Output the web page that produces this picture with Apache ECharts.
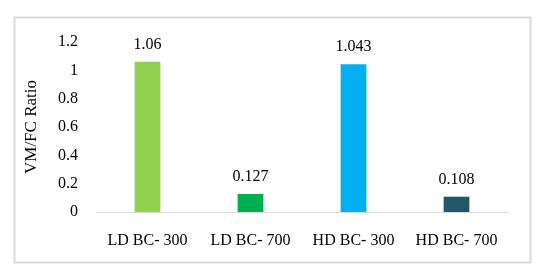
<!DOCTYPE html>
<html><head><meta charset="utf-8">
<script src="https://cdn.jsdelivr.net/npm/echarts@6/dist/echarts.min.js"></script>
<style>html,body{margin:0;padding:0;background:#fff}#c{width:545px;height:278px}</style>
</head><body><div id="c"></div>
<script>
const categories = ["LD BC- 300", "LD BC- 700", "HD BC- 300", "HD BC- 700"];
const values = [1.06, 0.127, 1.043, 0.108];
const labels = ["1.06", "0.127", "1.043", "0.108"];
const colors = ["#92d050", "#00b050", "#00b0f0", "#215968"];
const yTicks = [0, 0.2, 0.4, 0.6, 0.8, 1, 1.2];

const chart = echarts.init(document.getElementById('c'), null, {renderer: 'canvas'});
const font = '"Liberation Serif", "Times New Roman", serif';
chart.setOption({
  animation: false,
  backgroundColor: '#fff',
  graphic: [{
    type: 'rect', shape: {x: 14.5, y: 17.5, width: 516, height: 245},
    style: {fill: 'none', stroke: '#d9d9d9', lineWidth: 2}, z: -1
  }],
  grid: {left: 96, right: 37, top: 42, bottom: 66},
  xAxis: {
    type: 'category', data: categories,
    axisLine: {lineStyle: {color: '#d9d9d9', width: 1}},
    axisTick: {show: false},
    axisLabel: {color: '#000', fontFamily: font, fontSize: 16, margin: 21, interval: 0, hideOverlap: false}
  },
  yAxis: {
    type: 'value', min: 0, max: 1.2, interval: 0.2,
    name: 'VM/FC Ratio', nameLocation: 'middle', nameGap: 56, nameRotate: 90,
    nameTextStyle: {color: '#000', fontFamily: font, fontSize: 17},
    axisLine: {show: false}, axisTick: {show: false}, splitLine: {show: false},
    axisLabel: {color: '#000', fontFamily: font, fontSize: 16, margin: 18,
      formatter: v => { const t = yTicks.find(x => Math.abs(x - v) < 1e-9); return t === undefined ? '' : String(t); }}
  },
  series: [{
    type: 'bar', barWidth: '25%',
    data: values.map((v, i) => ({value: v, itemStyle: {color: colors[i]}})),
    label: {show: true, position: 'top', distance: 9, color: '#000', fontFamily: font, fontSize: 16,
      formatter: p => labels[p.dataIndex]}
  }]
});
</script></body></html>
